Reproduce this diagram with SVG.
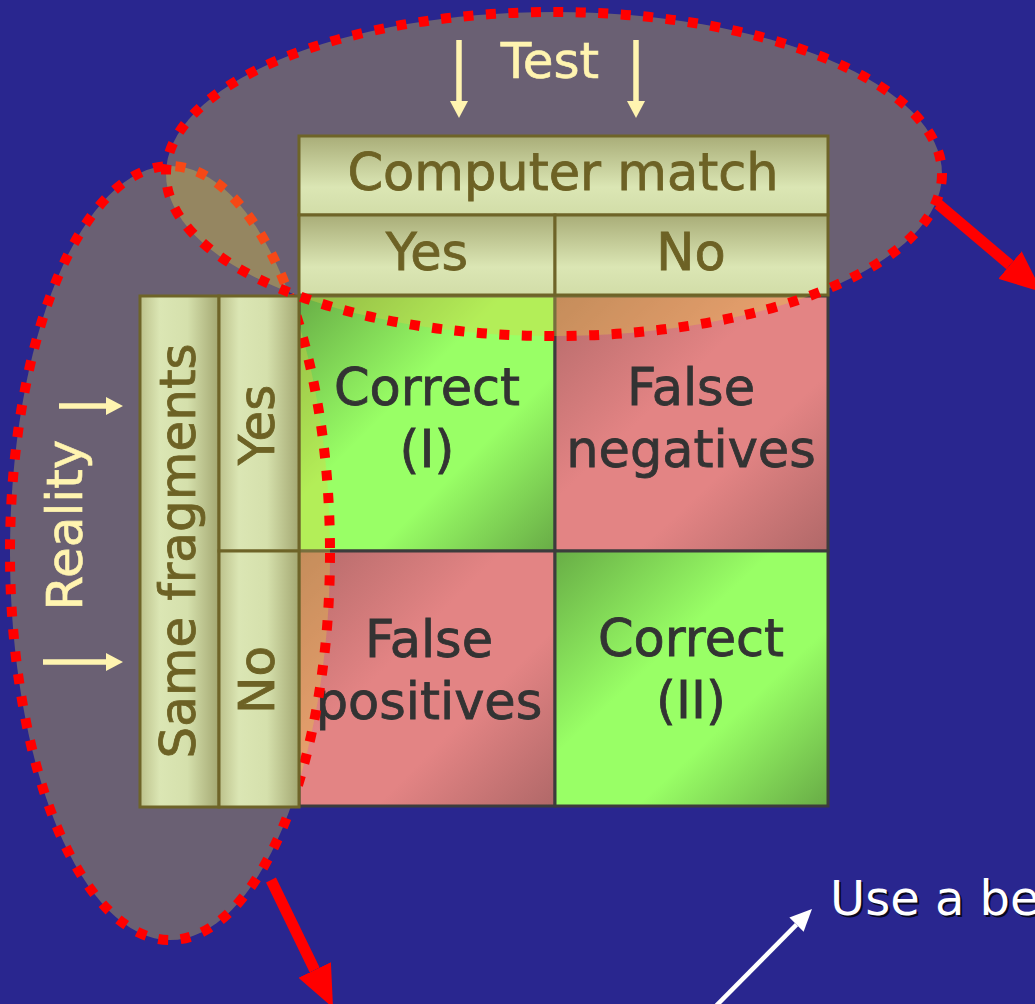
<svg xmlns="http://www.w3.org/2000/svg" width="1035" height="1004" viewBox="0 0 1035 1004">
  <style>
    text { font-family: "DejaVu Sans", "Liberation Sans", sans-serif; }
    .hdr { stroke: #6e6428; stroke-width: 3; }
    .htxt { fill: #6d6225; stroke: #6d6225; stroke-width: 0.8; font-size: 51px; text-anchor: middle; }
    .rtxt { fill: #6d6225; stroke: #6d6225; stroke-width: 0.8; font-size: 50px; text-anchor: middle; }
    .cell { stroke: #3c3c3c; stroke-width: 3; }
    .ctxt { fill: #333333; stroke: #333333; stroke-width: 0.8; font-size: 51px; text-anchor: middle; }
    .ytxt { fill: #fff4b0; stroke: #fff4b0; stroke-width: 0.6; font-size: 50px; text-anchor: middle; }
    .region { fill: #e6cf3e; fill-opacity: 0.35; }
    .dots { fill: none; stroke: #ff0000; stroke-width: 10; stroke-dasharray: 10 12.5; }
    .yarrow { stroke: #fff4b0; stroke-width: 5.5; fill: none; }
    .rarrow { stroke: #ff0000; stroke-width: 11; fill: none; }
    .warrow { stroke: #ffffff; stroke-width: 4.5; fill: none; }
  </style>
  <defs>
    <linearGradient id="gHdrH" x1="0" y1="0" x2="0" y2="1">
      <stop offset="0" stop-color="#a9ad78"/>
      <stop offset="0.65" stop-color="#dbe6b4"/>
      <stop offset="1" stop-color="#d2dda8"/>
    </linearGradient>
    <linearGradient id="gHdrV" x1="0" y1="0" x2="1" y2="0">
      <stop offset="0" stop-color="#bcc18b"/>
      <stop offset="0.25" stop-color="#dbe6b4"/>
      <stop offset="0.6" stop-color="#d5e0ac"/>
      <stop offset="1" stop-color="#a4a872"/>
    </linearGradient>
    <linearGradient id="gGreen" x1="0" y1="0" x2="1" y2="1">
      <stop offset="0" stop-color="#68ad46"/>
      <stop offset="0.4" stop-color="#99ff66"/>
      <stop offset="0.65" stop-color="#99ff66"/>
      <stop offset="1" stop-color="#68ab46"/>
    </linearGradient>
    <linearGradient id="gPink" x1="0" y1="0" x2="1" y2="1">
      <stop offset="0" stop-color="#b46a6a"/>
      <stop offset="0.4" stop-color="#e38484"/>
      <stop offset="0.65" stop-color="#e38484"/>
      <stop offset="1" stop-color="#b06868"/>
    </linearGradient>
    <marker id="mYellow" markerUnits="userSpaceOnUse" viewBox="0 0 17 18" markerWidth="17" markerHeight="18" refX="0" refY="9" orient="auto">
      <path d="M0,0 L17,9 L0,18 z" fill="#fff4b0"/>
    </marker>
    <marker id="mRed" markerUnits="userSpaceOnUse" viewBox="0 0 42 36" markerWidth="42" markerHeight="36" refX="0" refY="18" orient="auto">
      <path d="M0,0 L42,18 L0,36 z" fill="#ff0000"/>
    </marker>
    <marker id="mWhite" markerUnits="userSpaceOnUse" viewBox="0 0 22 20" markerWidth="22" markerHeight="20" refX="0" refY="10" orient="auto">
      <path d="M0,0 L22,10 L0,20 z" fill="#ffffff"/>
    </marker>
  </defs>

  <!-- background -->
  <rect x="0" y="0" width="1035" height="1004" fill="#29268f"/>

  <!-- result cells -->
  <g id="cell-correct-1">
    <rect class="cell" x="299" y="296" width="256" height="255" fill="url(#gGreen)"/>
    <text class="ctxt" x="427" y="405">Correct</text>
    <text class="ctxt" x="427" y="467">(I)</text>
  </g>
  <g id="cell-false-negatives">
    <rect class="cell" x="555" y="296" width="273" height="255" fill="url(#gPink)"/>
    <text class="ctxt" x="691" y="405">False</text>
    <text class="ctxt" x="691" y="467">negatives</text>
  </g>
  <g id="cell-false-positives">
    <rect class="cell" x="299" y="551" width="256" height="255" fill="url(#gPink)"/>
    <text class="ctxt" x="429" y="657">False</text>
    <text class="ctxt" x="429" y="719">positives</text>
  </g>
  <g id="cell-correct-2">
    <rect class="cell" x="555" y="551" width="273" height="255" fill="url(#gGreen)"/>
    <text class="ctxt" x="691" y="656">Correct</text>
    <text class="ctxt" x="691" y="718">(II)</text>
  </g>

  <!-- regions (fills) -->
  <g id="region-reality">
    <ellipse class="region" cx="170" cy="553" rx="160" ry="387"/>
    <ellipse class="dots" cx="170" cy="553" rx="160" ry="387"/>
  </g>
  <g id="region-test">
    <ellipse class="region" cx="554" cy="174" rx="388" ry="162"/>
  </g>

  <!-- headers -->
  <g id="header-computer-match">
    <rect class="hdr" x="299" y="136" width="529" height="79" fill="url(#gHdrH)"/>
    <text class="htxt" x="563" y="190">Computer match</text>
  </g>
  <g id="header-col-yes">
    <rect class="hdr" x="299" y="215" width="256" height="80" fill="url(#gHdrH)"/>
    <text class="htxt" x="427" y="270">Yes</text>
  </g>
  <g id="header-col-no">
    <rect class="hdr" x="555" y="215" width="273" height="80" fill="url(#gHdrH)"/>
    <text class="htxt" x="691" y="270">No</text>
  </g>
  <g id="header-same-fragments">
    <rect class="hdr" x="140" y="296" width="79" height="511" fill="url(#gHdrV)"/>
    <text class="rtxt" transform="translate(195,551) rotate(-90)">Same fragments</text>
  </g>
  <g id="header-row-yes">
    <rect class="hdr" x="219" y="296" width="80" height="255" fill="url(#gHdrV)"/>
    <text class="rtxt" transform="translate(274,425) rotate(-90)">Yes</text>
  </g>
  <g id="header-row-no">
    <rect class="hdr" x="219" y="551" width="80" height="256" fill="url(#gHdrV)"/>
    <text class="rtxt" transform="translate(274,680) rotate(-90)">No</text>
  </g>

  <!-- test region outline -->
  <g id="region-test-outline">
    <ellipse class="dots" cx="554" cy="174" rx="388" ry="162"/>
  </g>

  <!-- labels -->
  <g id="label-test">
    <text class="ytxt" x="550" y="78">Test</text>
  </g>
  <g id="label-reality">
    <text class="ytxt" transform="translate(82,525) rotate(-90)">Reality</text>
  </g>
  <g id="note-use">
    <text x="832" y="917" font-size="48" fill="#000000" fill-opacity="0.8">Use a be</text>
    <text x="830" y="915" font-size="48" fill="#ffffff">Use a be</text>
  </g>

  <!-- connectors -->
  <g id="connectors">
    <line class="yarrow" x1="459" y1="40" x2="459" y2="101" marker-end="url(#mYellow)"/>
    <line class="yarrow" x1="636" y1="40" x2="636" y2="101" marker-end="url(#mYellow)"/>
    <line class="yarrow" x1="59" y1="406" x2="106" y2="406" marker-end="url(#mYellow)"/>
    <line class="yarrow" x1="43" y1="662" x2="106" y2="662" marker-end="url(#mYellow)"/>
    <line class="rarrow" x1="938" y1="204" x2="1010" y2="265" marker-end="url(#mRed)"/>
    <line class="rarrow" x1="271" y1="880" x2="314.7" y2="970" marker-end="url(#mRed)"/>
    <line class="warrow" x1="708" y1="1014" x2="796.5" y2="924.6" marker-end="url(#mWhite)"/>
  </g>
</svg>
